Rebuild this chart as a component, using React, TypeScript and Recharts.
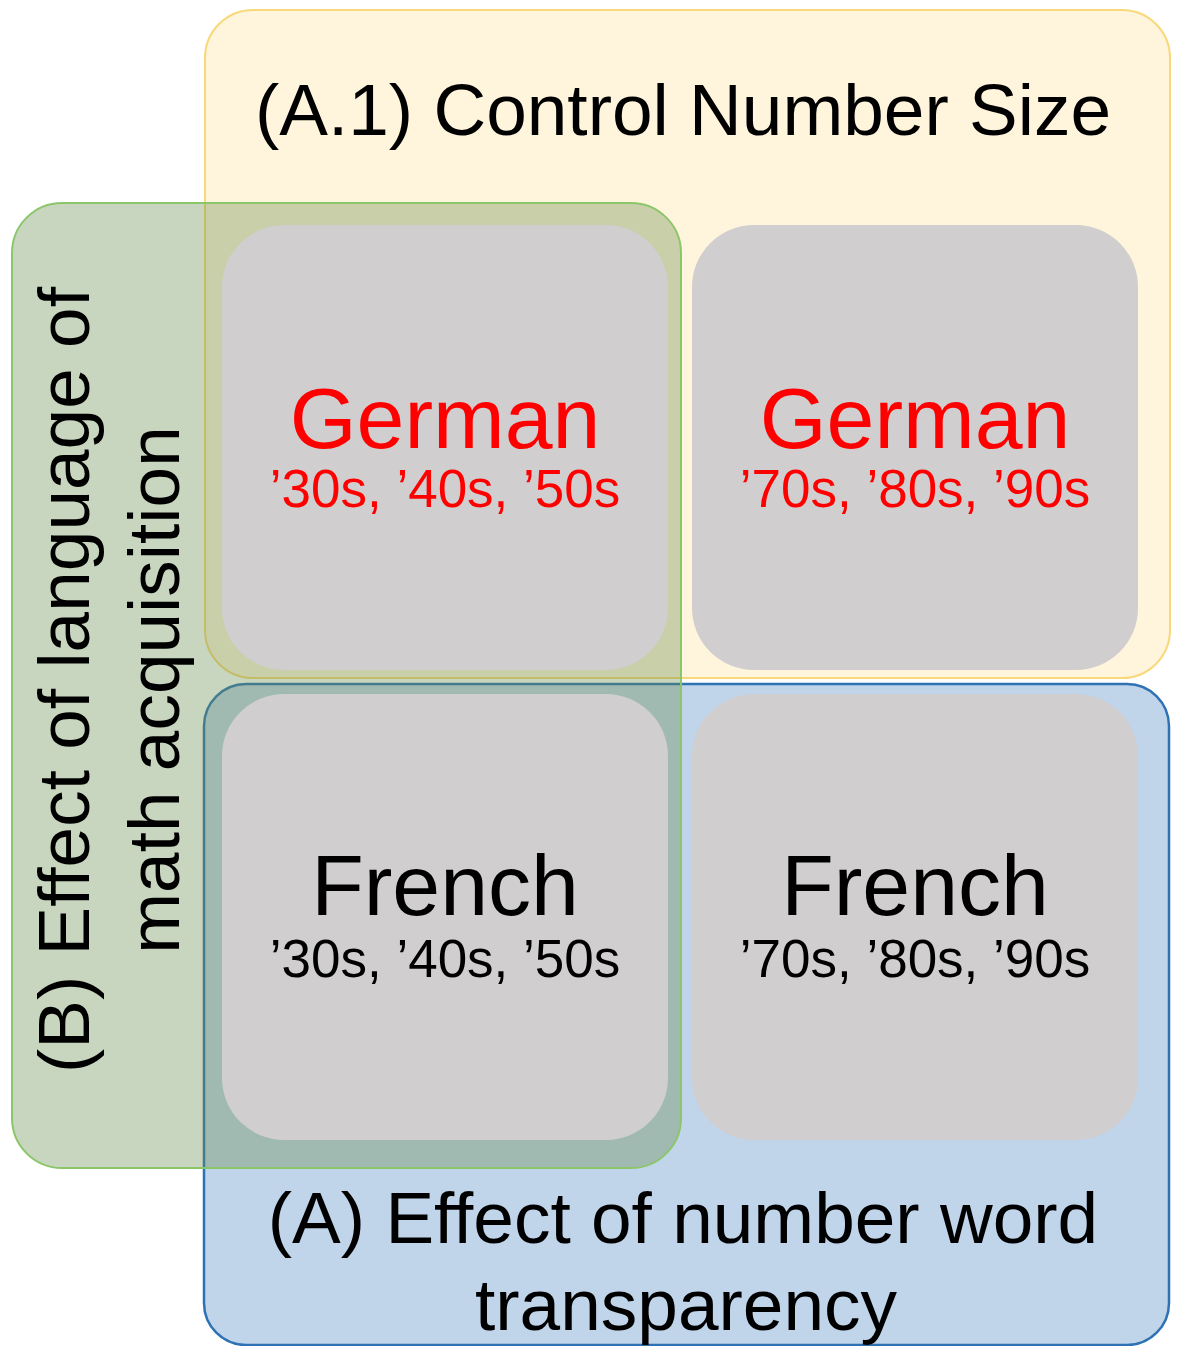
import React from 'react';
import { ComposedChart, XAxis, YAxis, ReferenceArea, Scatter } from 'recharts';

// outer frames (A.1 yellow, A blue, B green), in picture units
const frames = [
  { id: 'A.1', x1: 205, x2: 1170, y1: 10, y2: 678 },
  { id: 'A', x1: 204, x2: 1169, y1: 684, y2: 1345 },
  { id: 'B', x1: 12, x2: 681, y1: 203, y2: 1168 },
];

// the four language x decade cells
const cells = [
  { id: 'german-old', x1: 222, x2: 668, y1: 225, y2: 670 },
  { id: 'german-new', x1: 692, x2: 1138, y1: 225, y2: 670 },
  { id: 'french-old', x1: 222, x2: 668, y1: 694, y2: 1140 },
  { id: 'french-new', x1: 692, x2: 1138, y1: 694, y2: 1140 },
];

const languages = ['German', 'German', 'French', 'French'];
const decades = ['\u201930s, \u201940s, \u201950s', '\u201970s, \u201980s, \u201990s', '\u201930s, \u201940s, \u201950s', '\u201970s, \u201980s, \u201990s'];

const W = 1177;
const H = 1346;
const FONT = '"Liberation Sans", Arial, sans-serif';

const frameStyle: Record<string, any> = {
  'A.1': { fill: '#fff4dc', stroke: '#f8d878', strokeWidth: 2, rx: 48 },
  A: { fill: '#c0d4ea', stroke: '#2e72b4', strokeWidth: 2.5, rx: 42 },
  B: { fill: '#6a8e4e', fillOpacity: 0.36, stroke: '#8cc66b', strokeWidth: 2, rx: 50 },
};

const roundRect = (style: any) => (props: any) => {
  const { x, y, width, height } = props;
  const { rx, ...rest } = style;
  return <rect x={x} y={y} width={width} height={height} rx={rx} ry={rx} {...rest} />;
};

// label anchors (text baseline, centred)
const labels = [
  { x: 683, y: 135, text: '(A.1) Control Number Size', kind: 'heading' },
  { x: 445, y: 448, text: languages[0], kind: 'langRed' },
  { x: 445, y: 507, text: decades[0], kind: 'decRed' },
  { x: 915, y: 448, text: languages[1], kind: 'langRed' },
  { x: 915, y: 507, text: decades[1], kind: 'decRed' },
  { x: 445, y: 915, text: languages[2], kind: 'lang' },
  { x: 445, y: 977, text: decades[2], kind: 'dec' },
  { x: 915, y: 915, text: languages[3], kind: 'lang' },
  { x: 915, y: 977, text: decades[3], kind: 'dec' },
  { x: 683, y: 1243, text: '(A) Effect of number word', kind: 'heading' },
  { x: 686, y: 1330, text: 'transparency', kind: 'heading' },
  { x: 89, y: 680, text: '(B) Effect of language of', kind: 'side' },
  { x: 179, y: 690, text: 'math acquisition', kind: 'side' },
];

const labelStyle: Record<string, any> = {
  heading: { fontSize: 73, fill: '#000' },
  side: { fontSize: 73, fill: '#000', rotate: true },
  langRed: { fontSize: 86, fill: '#ff0000' },
  decRed: { fontSize: 53, fill: '#ff0000' },
  lang: { fontSize: 86, fill: '#000' },
  dec: { fontSize: 53, fill: '#000' },
};

const TextMark = (props: any) => {
  const { cx, cy, payload } = props;
  const st = labelStyle[payload.kind];
  return (
    <text
      x={cx}
      y={cy}
      textAnchor="middle"
      fontFamily={FONT}
      fontSize={st.fontSize}
      fill={st.fill}
      transform={st.rotate ? `rotate(-90 ${cx} ${cy})` : undefined}
    >
      {payload.text}
    </text>
  );
};

export default function App() {
  return (
    <div style={{ position: 'absolute', left: 0, top: 0, width: W, height: H, background: '#fff' }}>
      <ComposedChart width={W} height={H} margin={{ top: 0, right: 0, bottom: 0, left: 0 }}>
        <XAxis type="number" dataKey="x" domain={[0, W]} hide />
        <YAxis type="number" dataKey="y" domain={[0, H]} reversed hide />
        {frames.filter(f => f.id !== 'B').map(f => (
          <ReferenceArea key={f.id} x1={f.x1} x2={f.x2} y1={f.y1} y2={f.y2} ifOverflow="visible" shape={roundRect(frameStyle[f.id])} />
        ))}
        {frames.filter(f => f.id === 'B').map(f => (
          <ReferenceArea key={f.id} x1={f.x1} x2={f.x2} y1={f.y1} y2={f.y2} ifOverflow="visible" shape={roundRect(frameStyle[f.id])} />
        ))}
        {cells.map(c => (
          <ReferenceArea key={c.id} x1={c.x1} x2={c.x2} y1={c.y1} y2={c.y2} ifOverflow="visible" shape={roundRect({ fill: '#d0cecf', rx: 62 })} />
        ))}
        <Scatter data={labels} dataKey="y" shape={TextMark} isAnimationActive={false} />
      </ComposedChart>
    </div>
  );
}
